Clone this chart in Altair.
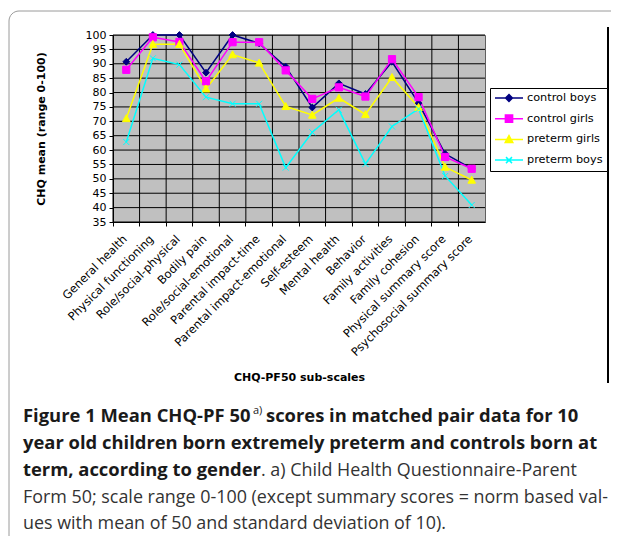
import altair as alt
import pandas as pd

categories = ["General health", "Physical functioning", "Role/social-physical", "Bodily pain",
              "Role/social-emotional", "Parental impact-time", "Parental impact-emotional",
              "Self-esteem", "Mental health", "Behavior", "Family activities", "Family cohesion",
              "Physical summary score", "Psychosocial summary score"]

series_names = ["control boys", "control girls", "preterm girls", "preterm boys"]
control_boys = [90.7, 100.0, 100.0, 86.9, 100.0, 97.1, 89.0, 74.8, 83.2, 79.5, 90.7, 76.3, 58.7, 53.5]
control_girls = [87.9, 99.2, 97.6, 83.9, 97.5, 97.5, 87.7, 77.8, 81.8, 78.6, 91.6, 78.4, 57.6, 53.5]
preterm_girls = [71.0, 96.8, 96.8, 81.3, 93.2, 90.3, 75.2, 72.2, 78.1, 72.4, 85.3, 74.9, 54.1, 49.6]
preterm_boys = [62.8, 91.9, 89.7, 78.4, 76.1, 76.1, 53.9, 66.2, 74.0, 55.2, 68.2, 74.3, 51.0, 40.9]

y_ticks = list(range(35, 101, 5))

colors = ["#000080", "#FF00FF", "#FFFF00", "#00FFFF"]

rows = []
for name, vals in zip(series_names, [control_boys, control_girls, preterm_girls, preterm_boys]):
    for c, v in zip(categories, vals):
        rows.append({"category": c, "series": name, "value": v})
df = pd.DataFrame(rows)
cat_df = pd.DataFrame({"category": categories})
tick_df = pd.DataFrame({"value": y_ticks})

# marker shapes for the plotted points (unit box -1..1)
marker_paths = [
    "M0,-0.85L0.85,0L0,0.85L-0.85,0Z",
    "M-0.9,-0.9L0.9,-0.9L0.9,0.9L-0.9,0.9Z",
    "M0,-0.95L0.95,0.8L-0.95,0.8Z",
    "M-0.75,-0.75L0.75,0.75M-0.75,0.75L0.75,-0.75",
]
# legend symbols: a line with the marker in its middle
legend_paths = [
    "M-1,0L1,0M0,-0.243L0.243,0L0,0.243L-0.243,0Z",
    "M-1,0L1,0M-0.257,-0.257L0.257,-0.257L0.257,0.257L-0.257,0.257Z",
    "M-1,0L1,0M0,-0.271L0.271,0.229L-0.271,0.229Z",
    "M-1,0L1,0M-0.214,-0.214L0.214,0.214M-0.214,0.214L0.214,-0.214",
]

FONT = "DejaVu Sans"

x_scale = alt.Scale(type="band", domain=categories, paddingInner=0, paddingOuter=0)
y_scale = alt.Scale(domain=[35, 100], nice=False, zero=False)

x_axis = alt.Axis(
    bandPosition=0, grid=False, ticks=True, tickSize=4,
    labelAngle=-45, labelAlign="right", labelBaseline="top",
    labelOffset=-5, labelPadding=7, labelOverlap=False, labelLimit=300,
    labelFont=FONT, labelFontSize=11.5, labelColor="black",
    title="CHQ-PF50 sub-scales", titleFont=FONT, titleFontSize=11,
    titleFontWeight="bold", titleColor="black", titleY=155, titleBaseline="middle",
)
y_axis = alt.Axis(
    values=y_ticks, grid=False, tickSize=4, labelPadding=3,
    labelFont=FONT, labelFontSize=11, labelColor="black",
    title="CHQ mean (range 0-100)", titleFont=FONT, titleFontSize=11,
    titleFontWeight="bold", titleColor="black",
    titleX=-72, titleY=93.5, titleAngle=-90, titleAlign="center", titleBaseline="middle",
)

x_enc = alt.X("category:N", sort=categories, scale=x_scale, axis=x_axis)
y_enc = alt.Y("value:Q", scale=y_scale, axis=y_axis)

dom = alt.Scale(domain=series_names, range=colors)

h_grid = alt.Chart(tick_df).mark_rule(color="black", strokeWidth=1).encode(
    y=y_enc,
    x=alt.value(0), x2=alt.value(372),
)
v_grid = alt.Chart(cat_df).mark_rule(color="black", strokeWidth=1).encode(
    x=alt.X("category:N", sort=categories, scale=x_scale, bandPosition=0, axis=x_axis),
    y=alt.value(0), y2=alt.value(187),
)

lines = alt.Chart(df).mark_line(strokeWidth=1.5).encode(
    x=x_enc, y=y_enc,
    stroke=alt.Stroke("series:N", scale=dom, legend=None),
)

points = alt.Chart(df).mark_point(filled=True, size=64, strokeWidth=1, opacity=1).encode(
    x=x_enc, y=y_enc,
    shape=alt.Shape("series:N", scale=alt.Scale(domain=series_names, range=marker_paths), legend=None),
    fill=alt.Fill("series:N", scale=dom, legend=None),
    stroke=alt.Stroke("series:N", scale=dom, legend=None),
)

leg = alt.Legend(
    orient="none", legendX=377, legendY=53, title=None,
    strokeColor="black", fillColor="white", padding=4, cornerRadius=0,
    symbolSize=784, symbolStrokeWidth=1.5, clipHeight=12, rowPadding=8.7,
    labelFont=FONT, labelFontSize=11.3, labelColor="black", labelOffset=3,
)
legend_layer = alt.Chart(df).transform_filter("false").mark_point(filled=True, opacity=1).encode(
    x=x_enc, y=y_enc,
    shape=alt.Shape("series:N", scale=alt.Scale(domain=series_names, range=legend_paths), legend=leg),
    fill=alt.Fill("series:N", scale=dom, legend=leg),
    stroke=alt.Stroke("series:N", scale=dom, legend=leg),
)

one = alt.Data(values=[{}])
frame = alt.Chart(one).mark_rect(fillOpacity=0, stroke="#9a9a9a", strokeWidth=1, cornerRadius=10).encode(
    x=alt.value(-104), x2=alt.value(530), y=alt.value(-24), y2=alt.value(515)
)
right_rule = alt.Chart(one).mark_rule(color="black", strokeWidth=2).encode(
    x=alt.value(495), y=alt.value(-8), y2=alt.value(348)
)

BOLD_C = "#1a1a1a"
REG_C = "#333333"
CAP = "Open Sans"


def txt(s, x, y, bold=True, size=18.4, color=None):
    return alt.Chart(one).mark_text(
        align="left", baseline="alphabetic", font=CAP, fontSize=size,
        fontWeight="bold" if bold else "normal",
        color=color or (BOLD_C if bold else REG_C),
    ).encode(x=alt.value(x), y=alt.value(y), text=alt.value(s))


caption = [
    txt("Figure 1 Mean CHQ-PF 50", -90, 387),
    txt("a)", 140, 379, bold=False, size=11, color=BOLD_C),
    txt("scores in matched pair data for 10", 153, 387),
    txt("year old children born extremely preterm and controls born at", -90, 414),
    txt("term, according to gender", -90, 441),
    txt(". a) Child Health Questionnaire-Parent", 148, 441, bold=False, size=17.9),
    txt("Form 50; scale range 0-100 (except summary scores = norm based val-", -90, 468, bold=False, size=17.9),
    txt("ues with mean of 50 and standard deviation of 10).", -90, 494, bold=False, size=17.9),
]

chart = alt.layer(frame, right_rule, h_grid, v_grid, lines, points, legend_layer, *caption).resolve_scale(
    shape="independent", fill="independent", stroke="independent"
).properties(
    width=372, height=187,
    autosize=alt.AutoSizeParams(type="none"),
    padding={"left": 105, "top": 27, "right": 126, "bottom": 314},
).configure_view(
    fill="#C0C0C0", stroke="#606060", strokeWidth=1
).configure_axis(
    domainColor="black", tickColor="black",
)

chart.save("out.html", embed_options={"renderer": "svg", "actions": False})
